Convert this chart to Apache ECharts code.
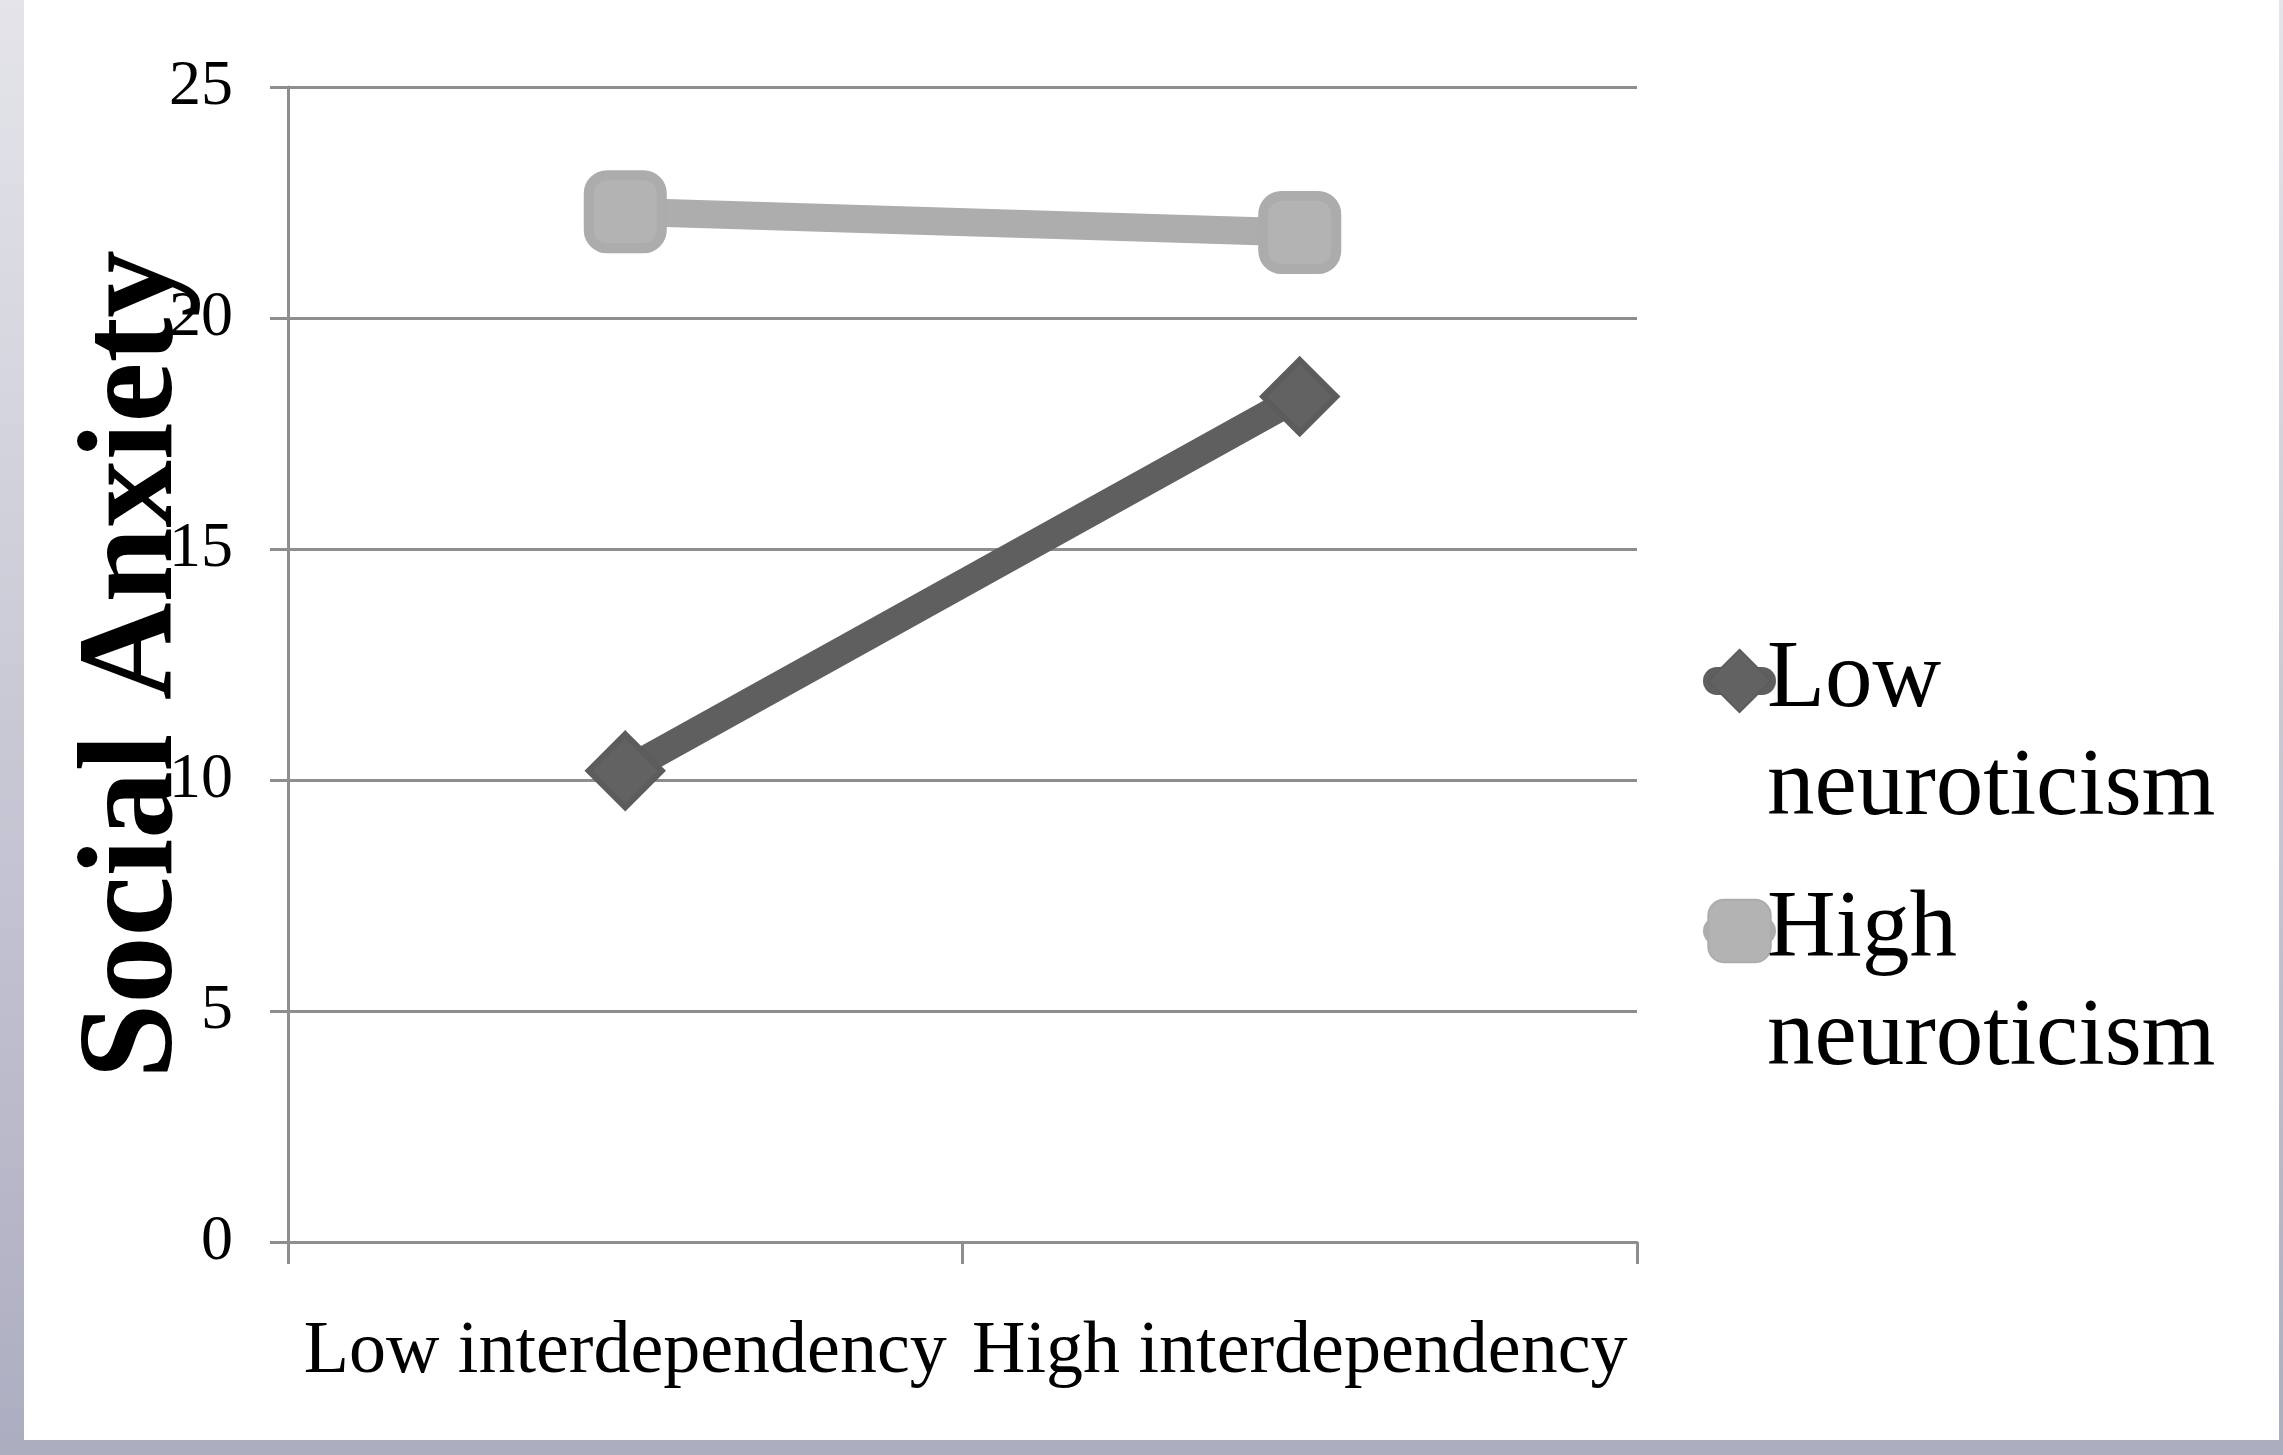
<!DOCTYPE html>
<html>
<head>
<meta charset="utf-8">
<script src="https://cdn.jsdelivr.net/npm/echarts@6/dist/echarts.min.js"></script>
<style>
html,body{margin:0;padding:0;background:#fff;}
#chart{width:2283px;height:1455px;}
</style>
</head>
<body>
<div id="chart"></div>
<script>
const categories = ['Low interdependency', 'High interdependency'];
const lowNeuroticism = [10.2, 18.3];
const highNeuroticism = [22.3, 21.85];
const seriesNames = ['Low neuroticism', 'High neuroticism'];
const yAxisTitle = 'Social Anxiety';
const yMin = 0, yMax = 25, yStep = 5;

const chart = echarts.init(document.getElementById('chart'));
const serif = 'Liberation Serif';
const gridColor = '#8e8e8e';
const borderGrad = new echarts.graphic.LinearGradient(0, 0, 0, 1, [
  {offset: 0, color: '#e4e4ea'},
  {offset: 1, color: '#adadc1'}
]);

const legendText = {
  fontFamily: serif, fontSize: 95, color: '#000', lineHeight: 108
};
// blank first line keeps the icon level with the first text line
const legendFormatter = n => ' \n' + n.replace(' ', '\n');

chart.setOption({
  animation: false,
  backgroundColor: '#fff',
  graphic: [
    {type: 'rect', left: 0, top: 0, shape: {width: 24, height: 1455}, style: {fill: borderGrad}, z: -1},
    {type: 'rect', left: 2279, top: 0, shape: {width: 4, height: 1455}, style: {fill: borderGrad}, z: -1},
    {type: 'rect', left: 0, top: 1440, shape: {width: 2283, height: 15}, style: {fill: '#adadc0'}, z: -1}
  ],
  grid: {left: 288, right: 646, top: 87, bottom: 213, containLabel: false, outerBoundsMode: 'none'},
  legend: [
    {
      data: [seriesNames[0]], left: 1703, top: 519, orient: 'vertical',
      itemWidth: 45, itemHeight: 78, padding: 0,
      formatter: legendFormatter,
      textStyle: legendText,
      lineStyle: {width: 28, cap: 'round'}
    },
    {
      data: [seriesNames[1]], left: 1703, top: 769, orient: 'vertical',
      itemWidth: 45, itemHeight: 78, padding: 0,
      formatter: legendFormatter,
      textStyle: legendText,
      lineStyle: {width: 28, cap: 'round'}
    }
  ],
  xAxis: {
    type: 'category',
    data: categories,
    boundaryGap: true,
    axisLine: {show: true, lineStyle: {color: gridColor, width: 3}},
    axisTick: {show: true, length: 22, lineStyle: {color: gridColor, width: 3}},
    axisLabel: {fontFamily: serif, fontSize: 74, color: '#000', margin: 74, interval: 0}
  },
  yAxis: {
    type: 'value',
    min: yMin, max: yMax, interval: yStep,
    name: yAxisTitle,
    nameLocation: 'middle',
    nameGap: 84,
    nameMoveOverlap: false,
    nameTextStyle: {fontFamily: serif, fontSize: 135, fontWeight: 'bold', color: '#000'},
    axisLine: {show: true, lineStyle: {color: gridColor, width: 3}},
    axisTick: {show: true, length: 18, lineStyle: {color: gridColor, width: 3}},
    axisLabel: {fontFamily: serif, fontSize: 64, color: '#000', margin: 55},
    splitLine: {show: true, lineStyle: {color: gridColor, width: 3}}
  },
  series: [
    {
      name: seriesNames[0], type: 'line', data: lowNeuroticism,
      symbol: 'diamond', symbolSize: [73, 73],
      lineStyle: {color: '#5f5f5f', width: 28},
      itemStyle: {color: '#626262', borderColor: '#5c5c5c', borderWidth: 6},
      z: 3
    },
    {
      name: seriesNames[1], type: 'line', data: highNeuroticism,
      symbol: 'roundRect', symbolSize: [73, 73],
      lineStyle: {color: '#adadad', width: 28},
      itemStyle: {color: '#b3b3b3', borderColor: '#acacac', borderWidth: 10},
      z: 2
    }
  ]
});
</script>
</body>
</html>
